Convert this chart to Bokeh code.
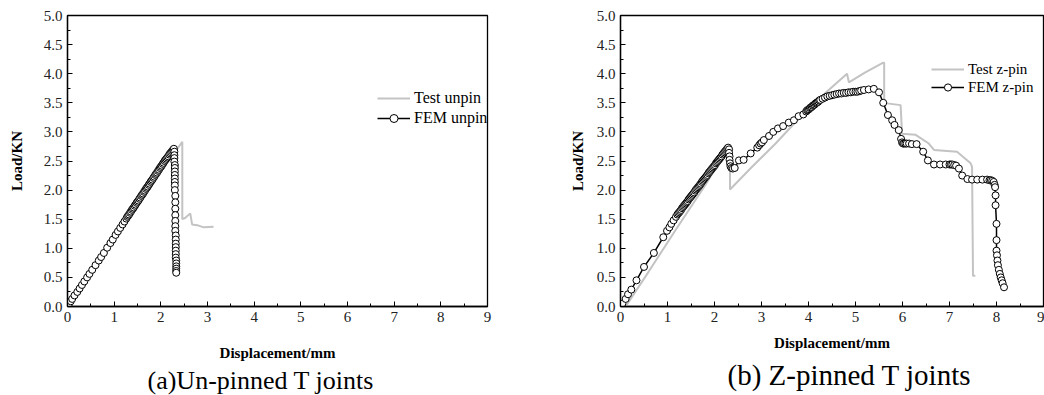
from bokeh.plotting import figure
from bokeh.layouts import row
from bokeh.models import (Range1d, FixedTicker, Legend, LegendItem, Title,
                          PrintfTickFormatter)
from bokeh.embed import file_html
from bokeh.resources import INLINE

SERIF = "Liberation Serif"

# ---------------- data: (a) un-pinned ----------------
test_unpin_x = [0.05, 0.50, 1.00, 1.50, 2.00, 2.46, 2.46, 2.52, 2.63, 2.67, 2.81, 2.92, 3.13]
test_unpin_y = [0.00, 0.55, 1.16, 1.76, 2.32, 2.83, 1.50, 1.52, 1.60, 1.41, 1.39, 1.36, 1.37]

fem_unpin_x = [0.00, 0.03, 0.07, 0.10, 0.15, 0.21, 0.26, 0.31, 0.36, 0.42, 0.47, 0.53, 0.60,
               0.67, 0.72, 0.78, 0.85, 0.92, 0.97, 1.03, 1.08, 1.13, 1.18, 1.22,
               1.26, 1.28, 1.30, 1.32, 1.34, 1.36, 1.38, 1.40, 1.42, 1.44, 1.46, 1.48, 1.50,
               1.52, 1.54, 1.56, 1.58, 1.60, 1.62, 1.64, 1.66, 1.68, 1.70, 1.72, 1.74, 1.76,
               1.78, 1.80, 1.82, 1.84, 1.86, 1.88, 1.90, 1.92, 1.94, 1.96, 1.98, 2.00, 2.02,
               2.04, 2.06, 2.08, 2.10, 2.12, 2.14, 2.16, 2.18, 2.20, 2.22, 2.24, 2.26, 2.28,
               2.29, 2.29, 2.29, 2.29, 2.30, 2.30, 2.30, 2.30, 2.30, 2.30, 2.30, 2.30, 2.31,
               2.31, 2.31, 2.31, 2.31, 2.31, 2.31, 2.32, 2.32, 2.32, 2.32, 2.32, 2.32, 2.32,
               2.33, 2.33, 2.33, 2.33, 2.33, 2.33]
fem_unpin_y = [0.00, 0.04, 0.09, 0.13, 0.19, 0.25, 0.31, 0.37, 0.43, 0.50, 0.56, 0.63, 0.71,
               0.79, 0.85, 0.92, 1.01, 1.09, 1.15, 1.23, 1.29, 1.35, 1.41, 1.46,
               1.51, 1.54, 1.56, 1.58, 1.61, 1.63, 1.66, 1.68, 1.70, 1.73, 1.75, 1.78, 1.80,
               1.82, 1.85, 1.87, 1.90, 1.92, 1.94, 1.97, 1.99, 2.02, 2.04, 2.06, 2.09, 2.11,
               2.14, 2.16, 2.18, 2.21, 2.23, 2.26, 2.28, 2.30, 2.33, 2.35, 2.38, 2.40, 2.42,
               2.45, 2.47, 2.50, 2.52, 2.54, 2.56, 2.58, 2.61, 2.63, 2.65, 2.67, 2.69, 2.71,
               2.66, 2.60, 2.55, 2.49, 2.43, 2.38, 2.32, 2.26, 2.20, 2.14, 2.08, 2.00, 1.90,
               1.79, 1.68, 1.57, 1.47, 1.38, 1.30, 1.22, 1.15, 1.08, 1.02, 0.96, 0.90, 0.84,
               0.79, 0.74, 0.69, 0.65, 0.61, 0.58]

# ---------------- data: (b) z-pinned ----------------
test_zpin_x = [0.11, 0.60, 1.20, 1.80, 2.31, 2.33, 2.33, 2.80, 3.30, 3.90, 4.40, 4.82, 4.86,
               5.20, 5.59, 5.61, 5.61, 5.67, 5.96, 5.99, 6.28, 6.56, 6.67, 7.16, 7.45, 7.48,
               7.50, 7.55]
test_zpin_y = [0.00, 0.60, 1.35, 2.08, 2.76, 2.76, 2.01, 2.40, 2.80, 3.32, 3.70, 4.00, 3.85,
               4.02, 4.19, 4.19, 3.55, 3.49, 3.46, 2.97, 2.95, 2.80, 2.69, 2.66, 2.46, 2.40,
               0.53, 0.53]

fem_zpin_x = [0.02, 0.04, 0.11, 0.16, 0.23, 0.34, 0.50, 0.71, 0.91, 0.99, 1.04, 1.08, 1.13,
              1.18, 1.21,
              1.23, 1.25, 1.27, 1.29, 1.31, 1.33, 1.35, 1.37, 1.39, 1.41, 1.43, 1.45, 1.47,
              1.49, 1.51, 1.53, 1.55, 1.57, 1.59, 1.61, 1.63, 1.65, 1.67, 1.69, 1.71, 1.73,
              1.75, 1.77, 1.79, 1.81, 1.83, 1.85, 1.87, 1.89, 1.91, 1.93, 1.95, 1.97, 1.99,
              2.01, 2.03, 2.05, 2.07, 2.09, 2.11, 2.13, 2.15, 2.17, 2.19, 2.21, 2.23, 2.25,
              2.27, 2.29,
              2.31, 2.31, 2.32, 2.32, 2.33, 2.34, 2.36, 2.39, 2.43,
              2.52, 2.62, 2.77, 2.91, 2.95, 2.98, 3.01, 3.05, 3.16, 3.25, 3.35, 3.46, 3.58,
              3.69, 3.79, 3.89, 3.95,
              3.97, 3.99, 4.01, 4.03, 4.05, 4.07, 4.09, 4.11, 4.13, 4.15, 4.17, 4.19, 4.21,
              4.23, 4.25,
              4.30, 4.35, 4.40, 4.45, 4.50, 4.55, 4.60, 4.65, 4.70, 4.75, 4.80, 4.85, 4.90,
              4.95, 5.00, 5.04, 5.08, 5.12, 5.18, 5.28, 5.39, 5.50, 5.59, 5.69, 5.78, 5.83,
              5.92, 5.97, 5.99, 6.01, 6.03, 6.06, 6.09, 6.14, 6.20, 6.30, 6.44, 6.54, 6.67,
              6.80, 6.92, 7.00, 7.03, 7.06, 7.10, 7.14, 7.20, 7.27, 7.38, 7.48, 7.59, 7.70,
              7.80, 7.85, 7.88, 7.91, 7.94, 7.96, 7.97, 7.98, 7.98, 8.00, 8.00, 8.00, 8.01,
              8.02, 8.03, 8.05, 8.07, 8.09, 8.11, 8.13, 8.16]
fem_zpin_y = [0.02, 0.05, 0.13, 0.21, 0.29, 0.45, 0.68, 0.92, 1.19, 1.30, 1.36, 1.42, 1.48,
              1.54, 1.58,
              1.60, 1.62, 1.64, 1.66, 1.69, 1.71, 1.73, 1.75, 1.77, 1.79, 1.81, 1.84, 1.86,
              1.88, 1.90, 1.92, 1.94, 1.96, 1.99, 2.01, 2.03, 2.05, 2.07, 2.09, 2.11, 2.14,
              2.16, 2.18, 2.20, 2.22, 2.24, 2.26, 2.29, 2.31, 2.33, 2.35, 2.37, 2.39, 2.41,
              2.43, 2.46, 2.48, 2.50, 2.52, 2.54, 2.56, 2.58, 2.61, 2.63, 2.65, 2.67, 2.69,
              2.71, 2.73,
              2.70, 2.64, 2.58, 2.52, 2.46, 2.41, 2.38, 2.37, 2.38,
              2.51, 2.52, 2.63, 2.73, 2.77, 2.80, 2.82, 2.86, 2.93, 3.00, 3.06, 3.10, 3.16,
              3.20, 3.27, 3.30, 3.35,
              3.37, 3.38, 3.39, 3.41, 3.42, 3.43, 3.45, 3.46, 3.47, 3.49, 3.50, 3.51, 3.52,
              3.54, 3.55,
              3.57, 3.59, 3.61, 3.62, 3.63, 3.64, 3.65, 3.66, 3.66, 3.67, 3.67, 3.68, 3.68,
              3.69, 3.69, 3.69, 3.70, 3.71, 3.72, 3.73, 3.74, 3.68, 3.50, 3.29, 3.20, 3.12,
              3.03, 2.88, 2.82, 2.80, 2.80, 2.80, 2.80, 2.80, 2.79, 2.79, 2.66, 2.51, 2.44,
              2.44, 2.44, 2.44, 2.44, 2.44, 2.43, 2.42, 2.37, 2.25, 2.19, 2.18, 2.18, 2.18,
              2.18, 2.17, 2.17, 2.16, 2.14, 2.09, 2.05, 1.91, 1.74, 1.42, 1.14, 0.96, 0.88,
              0.79, 0.71, 0.63, 0.56, 0.50, 0.45, 0.40, 0.33]

x_ticks = [0, 1, 2, 3, 4, 5, 6, 7, 8, 9]
x_minor = [0.5, 1.5, 2.5, 3.5, 4.5, 5.5, 6.5, 7.5, 8.5]
y_ticks = [0.0, 0.5, 1.0, 1.5, 2.0, 2.5, 3.0, 3.5, 4.0, 4.5, 5.0]
y_minor = [0.25, 0.75, 1.25, 1.75, 2.25, 2.75, 3.25, 3.75, 4.25, 4.75]

captions = ["(a)Un-pinned T joints", "(b) Z-pinned T joints"]
legend_labels = [("Test unpin", "FEM unpin"), ("Test z-pin", "FEM z-pin")]

GRAY = "#c3c3c3"


def style_axis(ax):
    ax.axis_line_color = "black"
    ax.axis_line_width = 1.3
    ax.major_tick_line_color = "black"
    ax.minor_tick_line_color = "black"
    ax.major_tick_in = 5
    ax.major_tick_out = 0
    ax.minor_tick_in = 3
    ax.minor_tick_out = 0
    ax.major_label_text_font = SERIF
    ax.major_label_text_font_size = "15px"
    ax.major_label_text_color = "#222222"
    ax.axis_label_text_font = SERIF
    ax.axis_label_text_font_style = "bold"
    ax.axis_label_text_font_size = "15px"
    ax.axis_label_text_color = "black"


def make_panel(tx, ty, fx, fy, labels, caption, cap_offset, cap_size, border_l, border_r,
               border_t, border_b, xlab_standoff, ylab_standoff, cap_standoff, leg_loc,
               leg_h, leg_size):
    p = figure(width=522, height=395, x_range=Range1d(0, 9), y_range=Range1d(0, 5),
               output_backend="svg", toolbar_location=None,
               min_border_left=border_l, min_border_right=border_r,
               min_border_top=border_t, min_border_bottom=border_b)
    p.xgrid.visible = False
    p.ygrid.visible = False
    p.outline_line_color = "black"
    p.outline_line_width = 1.3
    p.background_fill_color = "white"
    p.border_fill_color = "white"

    xa = p.xaxis[0]
    xa.ticker = FixedTicker(ticks=x_ticks, minor_ticks=x_minor)
    xa.formatter = PrintfTickFormatter(format="%d")
    xa.axis_label = "Displacement/mm"
    style_axis(xa)
    xa.major_label_standoff = 5
    xa.axis_label_standoff = xlab_standoff

    ya = p.yaxis[0]
    ya.ticker = FixedTicker(ticks=y_ticks, minor_ticks=y_minor)
    ya.formatter = PrintfTickFormatter(format="%.1f")
    ya.axis_label = "Load/KN"
    style_axis(ya)
    ya.major_label_standoff = 5
    ya.axis_label_standoff = ylab_standoff

    r_test = p.line(tx, ty, line_color=GRAY, line_width=2)
    r_line = p.line(fx, fy, line_color="black", line_width=1.5)
    r_pts = p.scatter(fx, fy, marker="circle", size=7, fill_color="white",
                      line_color="black", line_width=1)

    leg = Legend(items=[LegendItem(label=labels[0], renderers=[r_test]),
                        LegendItem(label=labels[1], renderers=[r_line, r_pts])],
                 location=leg_loc, orientation="vertical",
                 background_fill_alpha=0, border_line_alpha=0,
                 padding=0, margin=0, spacing=0,
                 glyph_width=33, glyph_height=leg_h, label_height=leg_h,
                 label_standoff=4, label_text_font=SERIF,
                 label_text_font_size=leg_size, label_text_color="black")
    p.add_layout(leg)

    cap = Title(text=caption, align="left", offset=cap_offset, standoff=cap_standoff,
                text_font=SERIF, text_font_size=cap_size, text_font_style="normal",
                text_color="black")
    p.add_layout(cap, "below")
    return p


p1 = make_panel(test_unpin_x, test_unpin_y, fem_unpin_x, fem_unpin_y, legend_labels[0],
                captions[0], 80, "26px", 67, 35, 14, 87, 20, 16, 0, (310, 178), 20, "16px")
p2 = make_panel(test_zpin_x, test_zpin_y, fem_zpin_x, fem_zpin_y, legend_labels[1],
                captions[1], 107, "29px", 98, 1, 15, 89, 10, 8, 7, (311, 210), 18, "15px")

layout = row(p1, p2)
open("out.html", "w").write(file_html(layout, INLINE))
